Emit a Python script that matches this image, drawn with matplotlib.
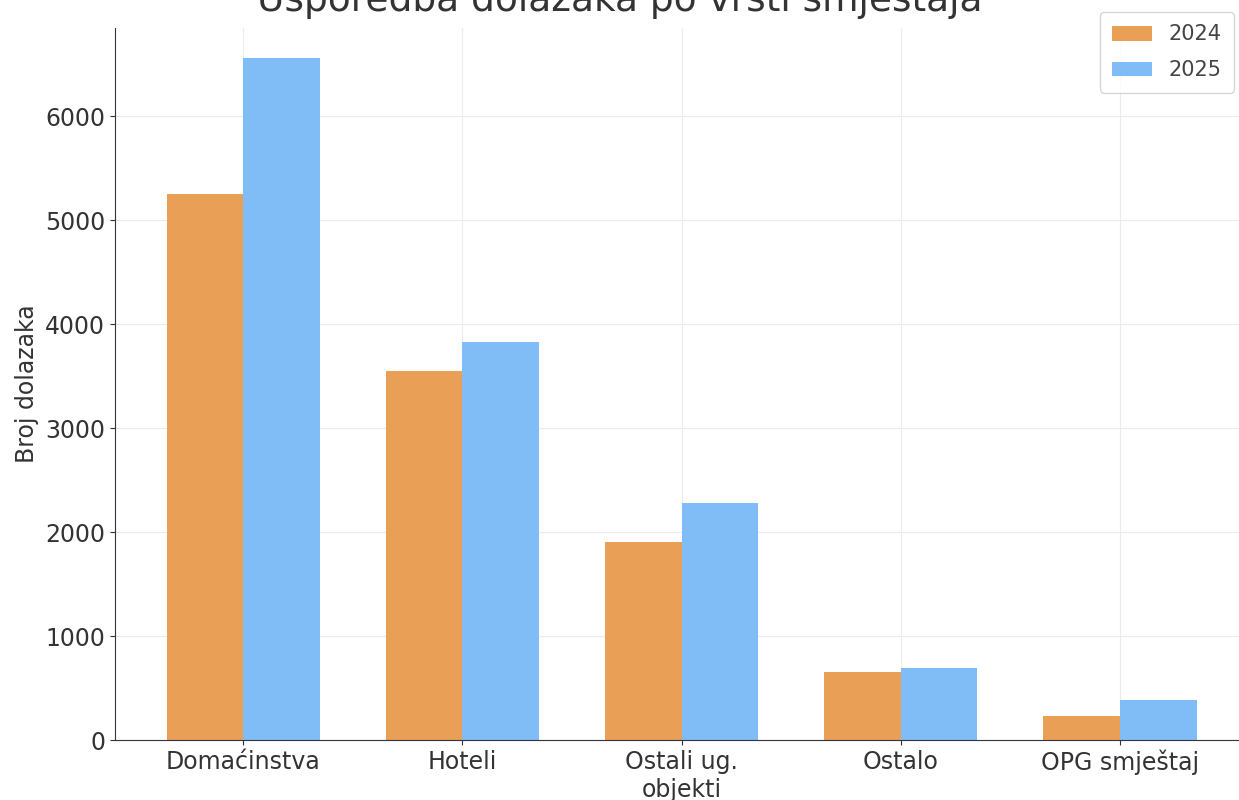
import numpy as np
import matplotlib.pyplot as plt

categories = ["Domaćinstva", "Hoteli", "Ostali ug.\nobjekti", "Ostalo", "OPG smještaj"]
dolasci_2024 = [5250, 3550, 1905, 655, 230]
dolasci_2025 = [6565, 3830, 2280, 690, 385]
years = ["2024", "2025"]

x = np.arange(len(categories))
width = 0.35

fig = plt.figure(figsize=(12.39, 8), dpi=100)
ax = fig.add_axes([115 / 1239, 60 / 800, (1248 - 115) / 1239, (772 - 60) / 800])

ax.bar(x - width / 2, dolasci_2024, width, color="#E99F55", label=years[0])
ax.bar(x + width / 2, dolasci_2025, width, color="#80BDF7", label=years[1])
ax.set_ylim(0, 6850)

ax.set_xticks(x)
ax.set_xticklabels(categories, fontsize=17, color="#333333")
ax.tick_params(axis="y", labelsize=17, colors="#333333")
ax.tick_params(axis="x", colors="#333333")
ax.set_ylabel("Broj dolazaka", fontsize=17, color="#333333")
ax.set_title("Usporedba dolazaka po vrsti smještaja", fontsize=27, color="#333333",
             x=(620 - 115) / 1133, pad=12)

ax.grid(True, color="#ececf0", linewidth=0.8)
ax.set_axisbelow(True)
for s in ["top", "right"]:
    ax.spines[s].set_visible(False)
ax.spines["left"].set_color("#333344")
ax.spines["bottom"].set_color("#333344")

leg = fig.legend(fontsize=15, loc="upper right", bbox_to_anchor=(1234 / 1239, 1 - 12 / 800),
                 handlelength=1.9, borderpad=0.6, labelspacing=0.75, borderaxespad=0)
for t in leg.get_texts():
    t.set_color("#444444")

fig.savefig("out.png", dpi=100)
